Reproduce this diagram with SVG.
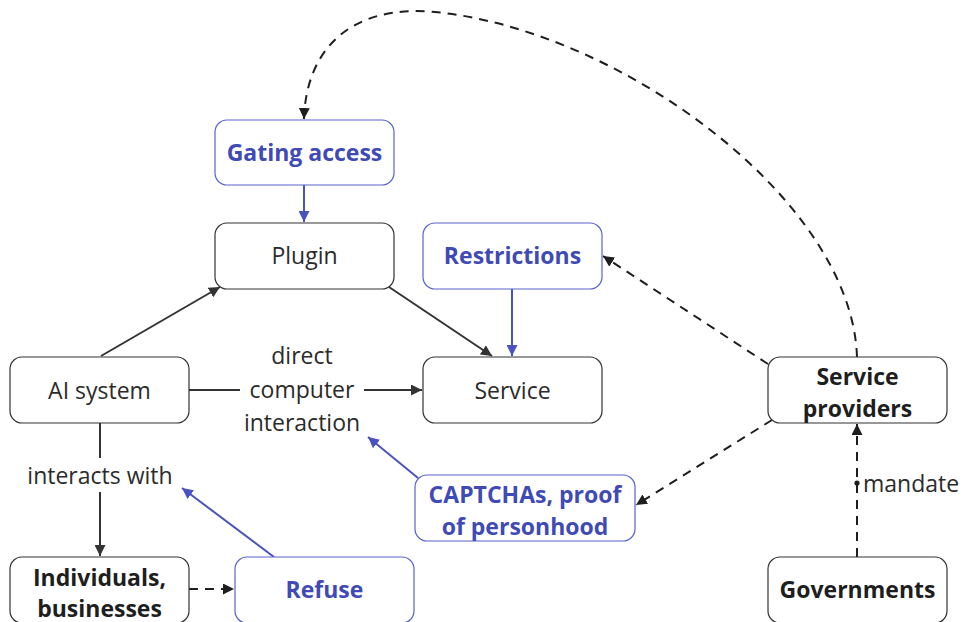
<svg xmlns="http://www.w3.org/2000/svg" width="963" height="622" viewBox="0 0 963 622">
<style>
.box{fill:#fff;stroke:#333;stroke-width:1.2}
.bbox{fill:#fff;stroke:#5a62cc;stroke-width:1.2}
text{font-family:"Open Sans","Noto Sans",sans-serif;font-size:23px;text-anchor:middle;fill:#2b2b2b}
.b{font-weight:bold;fill:#1e1e1e}
.bl{font-weight:bold;fill:#3f4ab6}
.c{fill:none;stroke:#333;stroke-width:2}
.cb{fill:none;stroke:#4a52bf;stroke-width:2}
.d{fill:none;stroke:#1e1e1e;stroke-width:2;stroke-dasharray:9 7}
</style>
<defs>
<marker id="ak" markerUnits="userSpaceOnUse" viewBox="0 0 10 10" refX="10" refY="5" markerWidth="11" markerHeight="11" orient="auto"><path d="M0,0 L10,5 L0,10 z" fill="#333"/></marker>
<marker id="ad" markerUnits="userSpaceOnUse" viewBox="0 0 10 10" refX="10" refY="5" markerWidth="11" markerHeight="11" orient="auto"><path d="M0,0 L10,5 L0,10 z" fill="#1e1e1e"/></marker>
<marker id="ab" markerUnits="userSpaceOnUse" viewBox="0 0 10 10" refX="10" refY="5" markerWidth="11" markerHeight="11" orient="auto"><path d="M0,0 L10,5 L0,10 z" fill="#4a52bf"/></marker>
</defs>
<rect width="963" height="622" fill="#fff"/>
<g id="connectors">
<line class="c" x1="101" y1="356" x2="220" y2="287" marker-end="url(#ak)"/>
<line class="c" x1="389" y1="287" x2="492" y2="356" marker-end="url(#ak)"/>
<line class="c" x1="189" y1="390" x2="240" y2="390"/>
<line class="c" x1="364" y1="390" x2="422" y2="390" marker-end="url(#ak)"/>
<line class="c" x1="100" y1="423" x2="100" y2="458"/>
<line class="c" x1="100" y1="492" x2="100" y2="556" marker-end="url(#ak)"/>
<line class="cb" x1="304" y1="185" x2="304" y2="222" marker-end="url(#ab)"/>
<line class="cb" x1="512" y1="289" x2="512" y2="356" marker-end="url(#ab)"/>
<line class="cb" x1="418" y1="478" x2="368" y2="437" marker-end="url(#ab)"/>
<line class="cb" x1="274" y1="557" x2="182" y2="488" marker-end="url(#ab)"/>
<line class="d" x1="189" y1="589" x2="234" y2="589" marker-end="url(#ad)"/>
<line class="d" x1="768" y1="364" x2="603" y2="256" marker-end="url(#ad)"/>
<line class="d" x1="772" y1="420" x2="636" y2="505" marker-end="url(#ad)"/>
<line class="d" x1="857" y1="557" x2="857" y2="424" marker-end="url(#ad)"/>
<circle cx="857" cy="483" r="2.6" fill="#1e1e1e"/>
<path class="d" d="M857,357 C852,200 620,30 435,12 C350,4 306,50 304,119" marker-end="url(#ad)"/>
<text x="302" y="355" dominant-baseline="central">direct</text>
<text x="302" y="389" dominant-baseline="central">computer</text>
<text x="302" y="422" dominant-baseline="central">interaction</text>
<text x="100" y="475" dominant-baseline="central">interacts with</text>
<text x="863" y="483" dominant-baseline="central" style="text-anchor:start">mandate</text>
</g>
<g id="gating"><rect class="bbox" x="215" y="120" width="179" height="65" rx="12"/><text class="bl" x="304.5" y="152" dominant-baseline="central">Gating access</text></g>
<g id="plugin"><rect class="box" x="215" y="223" width="179" height="66" rx="12"/><text x="304.5" y="255" dominant-baseline="central">Plugin</text></g>
<g id="restrictions"><rect class="bbox" x="423" y="223" width="179" height="66" rx="12"/><text class="bl" x="512.5" y="255" dominant-baseline="central">Restrictions</text></g>
<g id="ai"><rect class="box" x="10" y="357" width="179" height="66" rx="12"/><text x="99.5" y="390" dominant-baseline="central">AI system</text></g>
<g id="service"><rect class="box" x="423" y="357" width="179" height="66" rx="12"/><text x="512.5" y="390" dominant-baseline="central">Service</text></g>
<g id="providers"><rect class="box" x="768" y="357" width="179" height="66" rx="12"/><text class="b" x="857.5" y="376" dominant-baseline="central">Service</text><text class="b" x="857.5" y="408" dominant-baseline="central">providers</text></g>
<g id="captcha"><rect class="bbox" x="415" y="475" width="220" height="66" rx="12"/><text class="bl" x="525" y="494" dominant-baseline="central">CAPTCHAs, proof</text><text class="bl" x="525" y="526" dominant-baseline="central">of personhood</text></g>
<g id="individuals"><rect class="box" x="10" y="557" width="179" height="66" rx="12"/><text class="b" x="99.5" y="577" dominant-baseline="central">Individuals,</text><text class="b" x="99.5" y="608" dominant-baseline="central">businesses</text></g>
<g id="refuse"><rect class="bbox" x="235" y="557" width="179" height="66" rx="12"/><text class="bl" x="324.5" y="589" dominant-baseline="central">Refuse</text></g>
<g id="governments"><rect class="box" x="768" y="557" width="179" height="66" rx="12"/><text class="b" x="857.5" y="589" dominant-baseline="central">Governments</text></g>
</svg>
